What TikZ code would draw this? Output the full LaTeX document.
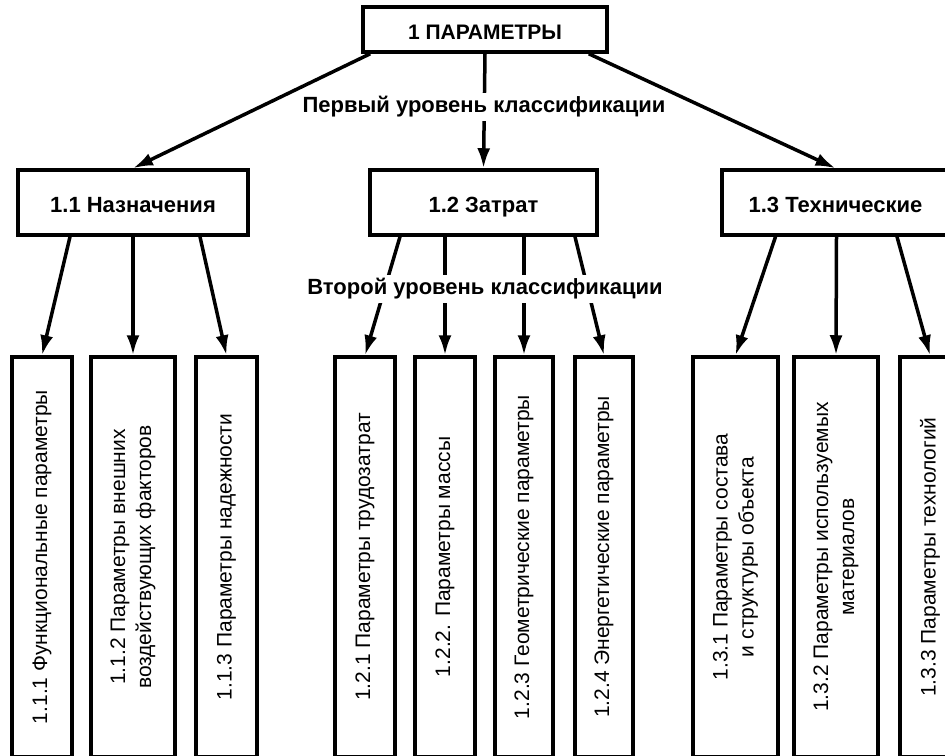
\documentclass[tikz,border=0pt]{standalone}
\usepackage{fontspec}
\setmainfont{Liberation Sans}
\usetikzlibrary{arrows.meta}
\begin{document}
\begin{tikzpicture}[x=1pt,y=-1pt,line width=3.5pt,
	hbox/.style={draw, inner sep=0pt, text height=22pt, text depth=2pt, font=\fontsize{22}{26}\selectfont\bfseries},
	vbox/.style={draw, rotate=90, minimum width=400pt, inner sep=0pt, align=center, font=\fontsize{21}{26}\selectfont},
	arr/.style={-{Latex[length=20pt,width=13pt]}},
	lvl/.style={fill=white, inner sep=4pt, font=\fontsize{22}{26}\selectfont\bfseries}]
	\useasboundingbox (0,0) rectangle (945,755);
	\clip (0,0) rectangle (945,755);
	\node (P)   at (485, 29.5)	[hbox, minimum width=244pt, minimum height=45pt, font=\fontsize{21}{25}\selectfont\bfseries]	{1 ПАРАМЕТРЫ};
	\node (N1)  at (133, 202.5)	[hbox, minimum width=230pt, minimum height=65pt]	{1.1 Назначения};
	\node (N2)  at (483.5, 202.5)	[hbox, minimum width=227pt, minimum height=65pt]	{1.2 Затрат};
	\node (N3)  at (835.5, 202.5)	[hbox, minimum width=227pt, minimum height=65pt]	{1.3 Технические};
	\node (N11) at (42, 557)	[vbox, minimum height=60pt]	{1.1.1 Функциональные параметры};
	\node (N12) at (133, 557)	[vbox, minimum height=84pt]	{1.1.2 Параметры внешних\\воздействующих факторов};
	\node (N13) at (226.5, 557)	[vbox, minimum height=61pt]	{1.1.3 Параметры надежности};
	\node (N21) at (365, 557)	[vbox, minimum height=60pt]	{1.2.1 Параметры трудозатрат};
	\node (N22) at (445, 557)	[vbox, minimum height=60pt]	{1.2.2. Параметры массы};
	\node (N23) at (524, 557)	[vbox, minimum height=58pt]	{1.2.3 Геометрические параметры};
	\node (N24) at (604, 557)	[vbox, minimum height=58pt]	{1.2.4 Энергетические параметры};
	\node (N31) at (735.5, 557)	[vbox, minimum height=85pt]	{1.3.1 Параметры состава\\и структуры объекта};
	\node (N32) at (836, 557)	[vbox, minimum height=84pt]	{1.3.2 Параметры используемых\\материалов};
	\node (N33) at (930, 557)	[vbox, minimum height=60pt]	{1.3.3 Параметры технологий};
	% first level
	\draw[arr] ([xshift=9pt]P.south west) -- (N1.north);
	\draw[arr] (P.south) -- (N2.north);
	\draw[arr] ([xshift=-20pt]P.south east) -- (N3.north);
	% second level
	\draw[arr] ([xshift=-63pt]N1.south) -- (N11.east);
	\draw[arr] (N1.south) -- (N12.east);
	\draw[arr] ([xshift=67pt]N1.south) -- (N13.east);
	\draw[arr] ([xshift=-83.5pt]N2.south) -- (N21.east);
	\draw[arr] ([xshift=-38.5pt]N2.south) -- (N22.east);
	\draw[arr] ([xshift=40.5pt]N2.south) -- (N23.east);
	\draw[arr] ([xshift=91.5pt]N2.south) -- (N24.east);
	\draw[arr] ([xshift=-60pt]N3.south) -- (N31.east);
	\draw[arr] ([xshift=1pt]N3.south) -- (N32.east);
	\draw[arr] ([xshift=61.5pt]N3.south) -- (N33.east);
	\node (L1) at (484, 107)	[lvl]	{Первый уровень классификации};
	\node (L2) at (485, 289)	[lvl]	{Второй уровень классификации};
\end{tikzpicture}
\end{document}
